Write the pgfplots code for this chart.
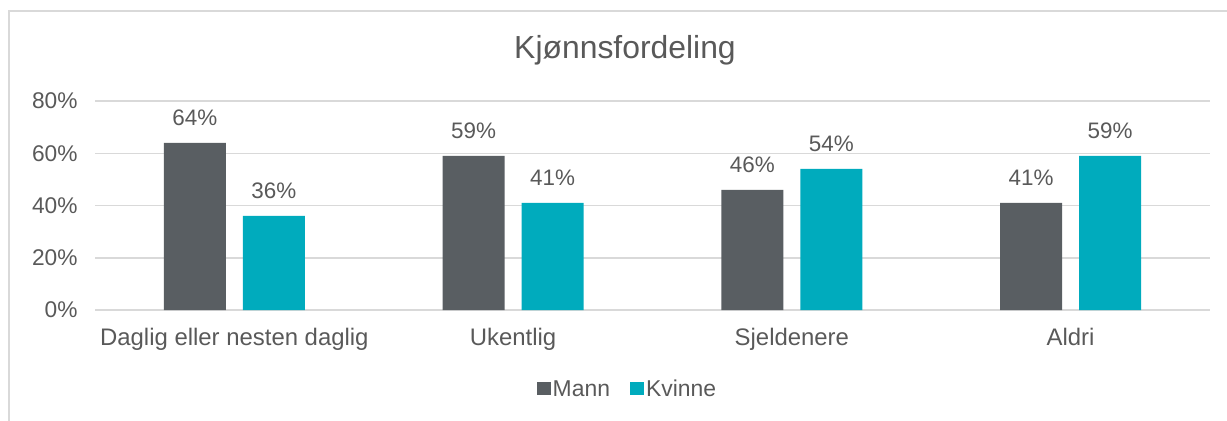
\documentclass[border=0pt]{standalone}
\usepackage{fontspec}
\setmainfont{Liberation Sans}
\usepackage{pgfplots}
\pgfplotsset{compat=1.18}
\definecolor{mann}{HTML}{595E62}
\definecolor{kvinne}{HTML}{00ABBD}
\definecolor{txt}{HTML}{595959}
\definecolor{grd}{HTML}{D9D9D9}

\begin{document}
\begin{tikzpicture}[x=1bp,y=1bp]
\useasboundingbox (0,0) rectangle (1227,420);
\begin{scope}
\clip (0,0) rectangle (1227,420);
\draw[grd, line width=1.5bp] (9,-10) -- (9,409) -- (1240,409);
\end{scope}
\node[font=\fontsize{32}{38}\selectfont, text=txt] at (625,370) {Kjønnsfordeling};
\begin{axis}[
    at={(95bp,110bp)}, anchor=south west,
    width=1115bp, height=209bp, scale only axis,
    ymin=0, ymax=80,
    xmin=-0.5, xmax=3.5,
    ytick={0,20,40,60,80},
    yticklabel={\pgfmathprintnumber{\tick}\%},
    xtick={0,1,2,3},
    xticklabels={Daglig eller nesten daglig, Ukentlig, Sjeldenere, Aldri},
    /pgf/number format/assume math mode=true,
    yticklabel style={font=\fontsize{22.8}{27}\selectfont, text=txt, xshift=-14bp},
    xticklabel style={font=\fontsize{24}{28}\selectfont, text=txt, yshift=-15bp},
    ymajorgrids, grid style={grd, line width=1.5bp},
    axis line style={draw=none},
    major tick length=0pt,
    ybar=17bp, bar width=62bp,
    nodes near coords={\pgfmathprintnumber{\pgfplotspointmeta}\%},
    nodes near coords style={font=\fontsize{22.5}{27}\selectfont, text=txt, yshift=14bp},
    legend style={at={(0.4775,-0.378)}, anchor=center, draw=none, fill=none, font=\fontsize{23}{27}\selectfont, text=txt, legend columns=2, /tikz/every even column/.append style={column sep=18bp}, inner sep=0pt},
    legend image code/.code={\fill[#1] (0bp,-6bp) rectangle (14bp,7bp);},
]
\addplot[fill=mann, draw=none] coordinates {(0,64) (1,59) (2,46) (3,41)};
\addplot[fill=kvinne, draw=none] coordinates {(0,36) (1,41) (2,54) (3,59)};
\legend{Mann, Kvinne}
\end{axis}
\end{tikzpicture}
\end{document}
